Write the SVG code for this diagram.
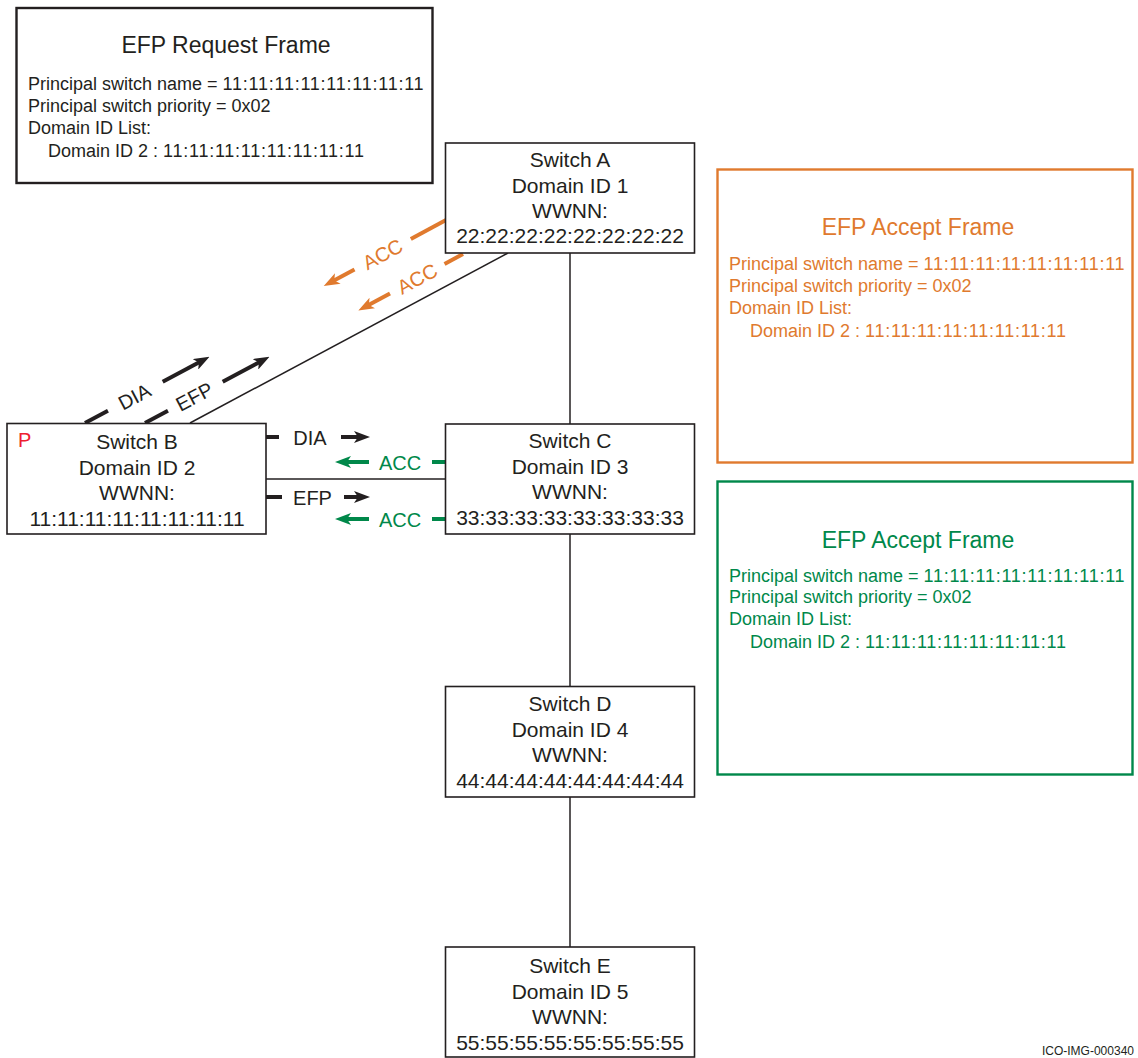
<svg xmlns="http://www.w3.org/2000/svg" width="1138" height="1058" viewBox="0 0 1138 1058">
<style>
  text { font-family: "Liberation Sans", Arial, Helvetica, sans-serif; fill: #231f20; }
  .node { fill: #ffffff; stroke: #231f20; stroke-width: 1.6; }
  .nt { font-size: 21px; text-anchor: middle; }
  .frame { fill: #ffffff; stroke-width: 2.4; }
  .ft { font-size: 23px; text-anchor: middle; }
  .fb { font-size: 18px; }
  .num { letter-spacing: 0.75px; }
  .link { stroke: #231f20; stroke-width: 1.5; fill: none; }
  .blk { stroke: #231f20; stroke-width: 4; fill: none; }
  .org { stroke: #e07a2e; stroke-width: 4; fill: none; }
  .grn { stroke: #00884a; stroke-width: 4; fill: none; }
  .lbl { font-size: 20px; text-anchor: middle; }
  .o { fill: #e07a2e; }
  .g { fill: #00884a; }
</style>
<defs>
  <marker id="ahB" markerUnits="userSpaceOnUse" markerWidth="16" markerHeight="12" viewBox="0 0 16 12" refX="7" refY="6" orient="auto">
    <path d="M0,0 L16,6 L0,12 L4,6 Z" fill="#231f20"/>
  </marker>
  <marker id="ahO" markerUnits="userSpaceOnUse" markerWidth="16" markerHeight="12" viewBox="0 0 16 12" refX="7" refY="6" orient="auto">
    <path d="M0,0 L16,6 L0,12 L4,6 Z" fill="#e07a2e"/>
  </marker>
  <marker id="ahG" markerUnits="userSpaceOnUse" markerWidth="16" markerHeight="12" viewBox="0 0 16 12" refX="7" refY="6" orient="auto">
    <path d="M0,0 L16,6 L0,12 L4,6 Z" fill="#00884a"/>
  </marker>
</defs>

<g id="connectors">
  <line class="link" x1="570" y1="253" x2="570" y2="424"/>
  <line class="link" x1="570" y1="534" x2="570" y2="686"/>
  <line class="link" x1="570" y1="797" x2="570" y2="947"/>
  <line class="link" x1="266" y1="479" x2="445" y2="479"/>
  <line class="link" x1="190" y1="423" x2="508" y2="253"/>

  <g transform="translate(85,423) rotate(-28)">
    <line class="blk" x1="0" y1="0" x2="26" y2="0"/>
    <text class="lbl" x="56" y="7">DIA</text>
    <line class="blk" x1="88" y1="0" x2="132" y2="0" marker-end="url(#ahB)"/>
  </g>
  <g transform="translate(145,423) rotate(-28)">
    <line class="blk" x1="0" y1="0" x2="26" y2="0"/>
    <text class="lbl" x="56" y="7">EFP</text>
    <line class="blk" x1="88" y1="0" x2="132" y2="0" marker-end="url(#ahB)"/>
  </g>
  <g transform="translate(446,220) rotate(-28.4)">
    <line class="org" x1="0" y1="0" x2="-40" y2="0"/>
    <text class="lbl o" x="-72" y="7">ACC</text>
    <line class="org" x1="-104" y1="0" x2="-130" y2="0" marker-end="url(#ahO)"/>
  </g>
  <g transform="translate(463,254) rotate(-28.4)">
    <line class="org" x1="0" y1="0" x2="-21" y2="0"/>
    <text class="lbl o" x="-52" y="7">ACC</text>
    <line class="org" x1="-83" y1="0" x2="-110" y2="0" marker-end="url(#ahO)"/>
  </g>

  <line class="blk" x1="266" y1="437" x2="279" y2="437"/>
  <text class="lbl" x="310" y="444.5">DIA</text>
  <line class="blk" x1="341" y1="437" x2="361" y2="437" marker-end="url(#ahB)"/>

  <line class="grn" x1="446" y1="462" x2="432" y2="462"/>
  <text class="lbl g" x="400" y="469.5">ACC</text>
  <line class="grn" x1="369" y1="462" x2="344" y2="462" marker-end="url(#ahG)"/>

  <line class="blk" x1="266" y1="497" x2="282" y2="497"/>
  <text class="lbl" x="312.5" y="504.5">EFP</text>
  <line class="blk" x1="344" y1="497" x2="361" y2="497" marker-end="url(#ahB)"/>

  <line class="grn" x1="446" y1="519" x2="432" y2="519"/>
  <text class="lbl g" x="400" y="526.5">ACC</text>
  <line class="grn" x1="369" y1="519" x2="344" y2="519" marker-end="url(#ahG)"/>
</g>

<g id="efp-request">
  <rect class="frame" x="16.5" y="8" width="416" height="175" stroke="#231f20"/>
  <text class="ft" x="226" y="53">EFP Request Frame</text>
  <text class="fb" x="28" y="90">Principal switch name = <tspan class="num">11:11:11:11:11:11:11:11</tspan></text>
  <text class="fb" x="28" y="112">Principal switch priority = 0x02</text>
  <text class="fb" x="28" y="134">Domain ID List:</text>
  <text class="fb" x="48" y="157">Domain ID 2 : <tspan class="num">11:11:11:11:11:11:11:11</tspan></text>
</g>

<g id="switch-a">
  <rect class="node" x="445.5" y="143" width="249" height="110"/>
  <text class="nt" x="570" y="167">Switch A</text>
  <text class="nt" x="570" y="193">Domain ID 1</text>
  <text class="nt" x="570" y="218">WWNN:</text>
  <text class="nt" x="570" y="243">22:22:22:22:22:22:22:22</text>
</g>

<g id="switch-b">
  <rect class="node" x="7" y="423.5" width="259" height="110.5"/>
  <text x="18" y="447" font-size="20" style="fill:#ee2030">P</text>
  <text class="nt" x="137" y="449">Switch B</text>
  <text class="nt" x="137" y="475">Domain ID 2</text>
  <text class="nt" x="137" y="500">WWNN:</text>
  <text class="nt" x="137" y="526">11:11:11:11:11:11:11:11</text>
</g>

<g id="switch-c">
  <rect class="node" x="445.5" y="424" width="249" height="110"/>
  <text class="nt" x="570" y="448">Switch C</text>
  <text class="nt" x="570" y="474">Domain ID 3</text>
  <text class="nt" x="570" y="499">WWNN:</text>
  <text class="nt" x="570" y="525">33:33:33:33:33:33:33:33</text>
</g>

<g id="switch-d">
  <rect class="node" x="445.5" y="686.5" width="249" height="110.5"/>
  <text class="nt" x="570" y="711">Switch D</text>
  <text class="nt" x="570" y="737">Domain ID 4</text>
  <text class="nt" x="570" y="762">WWNN:</text>
  <text class="nt" x="570" y="788">44:44:44:44:44:44:44:44</text>
</g>

<g id="switch-e">
  <rect class="node" x="445.5" y="947" width="249" height="110"/>
  <text class="nt" x="570" y="973">Switch E</text>
  <text class="nt" x="570" y="999">Domain ID 5</text>
  <text class="nt" x="570" y="1024">WWNN:</text>
  <text class="nt" x="570" y="1050">55:55:55:55:55:55:55:55</text>
</g>

<g id="efp-accept-orange">
  <rect class="frame" x="717.5" y="169.5" width="415" height="293" stroke="#e07a2e"/>
  <text class="ft o" x="918" y="235">EFP Accept Frame</text>
  <text class="fb o" x="729" y="270">Principal switch name = <tspan class="num">11:11:11:11:11:11:11:11</tspan></text>
  <text class="fb o" x="729" y="292">Principal switch priority = 0x02</text>
  <text class="fb o" x="729" y="314">Domain ID List:</text>
  <text class="fb o" x="750" y="337">Domain ID 2 : <tspan class="num">11:11:11:11:11:11:11:11</tspan></text>
</g>

<g id="efp-accept-green">
  <rect class="frame" x="717.5" y="481.5" width="415" height="293" stroke="#00884a"/>
  <text class="ft g" x="918" y="548">EFP Accept Frame</text>
  <text class="fb g" x="729" y="582">Principal switch name = <tspan class="num">11:11:11:11:11:11:11:11</tspan></text>
  <text class="fb g" x="729" y="603">Principal switch priority = 0x02</text>
  <text class="fb g" x="729" y="625">Domain ID List:</text>
  <text class="fb g" x="750" y="648">Domain ID 2 : <tspan class="num">11:11:11:11:11:11:11:11</tspan></text>
</g>

<text x="1134" y="1055" font-size="12" text-anchor="end" style="fill:#231f20">ICO-IMG-000340</text>
</svg>
